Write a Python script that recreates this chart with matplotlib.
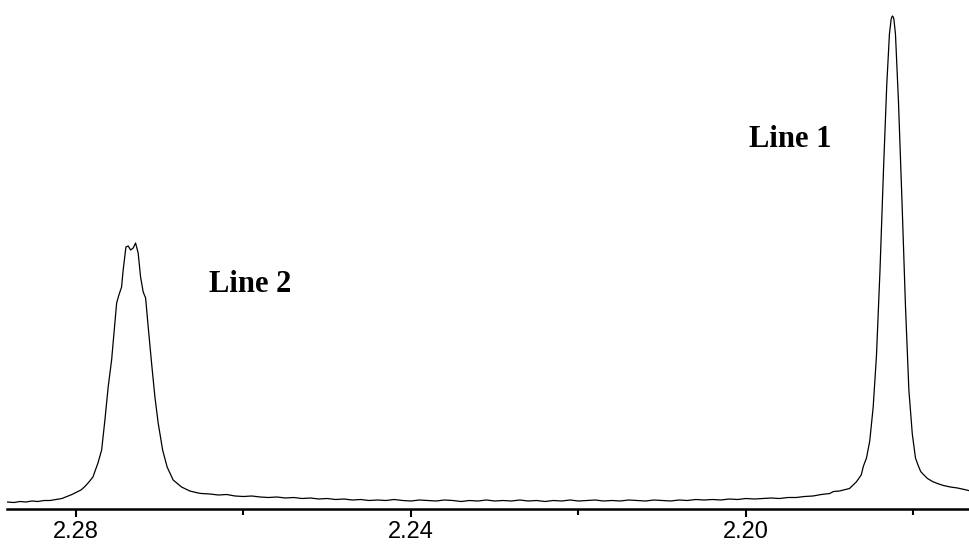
import matplotlib
matplotlib.use("Agg")
import matplotlib.pyplot as plt
from matplotlib.ticker import FixedLocator

# chemical shift (ppm) and intensity
shift_left = [2.28823, 2.2874, 2.28668, 2.28597, 2.28525, 2.28453, 2.28382, 2.2831,
              2.28239, 2.28167, 2.28107, 2.28048, 2.27988, 2.2794, 2.27893, 2.27845,
              2.27797, 2.27737, 2.27693, 2.27654, 2.27615, 2.27574, 2.27535, 2.27514,
              2.27487, 2.27455, 2.27436, 2.27403, 2.27376, 2.27347, 2.27316, 2.27288,
              2.27257, 2.27228, 2.27197, 2.27168, 2.27137, 2.27097, 2.27057, 2.27018,
              2.26965, 2.26911, 2.26839, 2.26739, 2.2664, 2.26541]
int_left = [7, 6.5, 7.5, 7, 8, 7.5, 8.5, 8.5,
            9.5, 10.5, 12.5, 14.5, 17, 19, 22.5, 27,
            32, 46, 59, 89, 122, 149, 186, 206,
            214, 222, 239, 262, 263, 259, 261, 266,
            256, 232, 217, 211, 182, 146, 112, 86,
            59, 42, 29, 22, 18, 16]

shift_base = [2.265, 2.264, 2.263, 2.262, 2.261, 2.260, 2.259, 2.258, 2.257, 2.256,
              2.255, 2.254, 2.253, 2.252, 2.251, 2.250, 2.249, 2.248, 2.247, 2.246,
              2.245, 2.244, 2.243, 2.242, 2.241, 2.240, 2.239, 2.238, 2.237, 2.236,
              2.235, 2.234, 2.233, 2.232, 2.231, 2.230, 2.229, 2.228, 2.227, 2.226,
              2.225, 2.224, 2.223, 2.222, 2.221, 2.220, 2.219, 2.218, 2.217, 2.216,
              2.215, 2.214, 2.213, 2.212, 2.211, 2.210, 2.209, 2.208, 2.207, 2.206,
              2.205, 2.204, 2.203, 2.202, 2.201, 2.200, 2.199, 2.198, 2.197, 2.196,
              2.195, 2.194, 2.193, 2.192, 2.191, 2.190]
int_base = [15.5, 15, 14, 14.5, 13, 12.5, 13, 12, 11.5, 12,
            11, 11.5, 10.5, 11, 10, 10.5, 9.5, 10, 9, 9.5,
            8.5, 9, 8.5, 9.5, 8.5, 8, 9, 8.5, 8, 9,
            8.5, 7.5, 8.5, 8, 9, 8, 8.5, 8, 9, 8,
            8.5, 7.5, 8.5, 8, 9, 8, 8.5, 9, 8, 8.5,
            8, 9, 8.5, 8, 9, 8.5, 8, 9, 8.5, 9.5,
            9, 9.5, 9, 10, 9.5, 10.5, 10, 10.5, 11, 10.5,
            11.5, 11.5, 12.5, 13, 14.5, 15.5]

shift_right = [2.18955, 2.18883, 2.18812, 2.18764, 2.18683, 2.18624, 2.18597, 2.18561,
               2.18522, 2.18481, 2.18442, 2.18400, 2.18358, 2.18319, 2.18287, 2.18266,
               2.18258, 2.18251, 2.18242, 2.18234, 2.18215, 2.18179, 2.18136, 2.18096,
               2.18055, 2.18014, 2.17976, 2.17946, 2.17914, 2.17881, 2.17833, 2.17773,
               2.17714, 2.17642, 2.17559, 2.17475, 2.17392, 2.17344]
int_right = [17.5, 18, 19.5, 20.5, 27, 34, 43, 51,
             68, 102, 153, 238, 339, 424, 475, 490,
             492, 493, 492, 490, 475, 407, 305, 204,
             119, 75, 51, 44, 37.5, 34.5, 30.5, 27.5,
             25.5, 23.5, 22, 21, 19.5, 18.5]

major_ticks = [2.28, 2.24, 2.20]
major_labels = ["2.28", "2.24", "2.20"]
minor_ticks = [2.26, 2.22, 2.18]

shift = shift_left + shift_base + shift_right
intensity = int_left + int_base + int_right

fig = plt.figure(figsize=(9.7, 5.51), dpi=100)
ax = fig.add_axes([7 / 970, 42 / 551, 962 / 970, 509 / 551])

ax.plot(shift, intensity, color="black", lw=0.9)

ax.set_xlim(2.28823, 2.17337)
ax.set_ylim(0, 509)

for side in ["top", "left", "right"]:
    ax.spines[side].set_visible(False)
ax.spines["bottom"].set_linewidth(1.8)
ax.set_yticks([])

ax.xaxis.set_major_locator(FixedLocator(major_ticks))
ax.xaxis.set_minor_locator(FixedLocator(minor_ticks))
ax.set_xticklabels(major_labels, fontfamily="Liberation Sans", fontsize=17)
ax.tick_params(axis="x", which="major", direction="out", length=5.8, width=1.5, pad=3)
ax.tick_params(axis="x", which="minor", direction="out", length=4.3, width=1.5)

ax.text(2.1947, 362, "Line 1", fontfamily="Liberation Serif", fontweight="bold",
        fontsize=22, ha="center", va="baseline")
ax.text(2.2592, 217, "Line 2", fontfamily="Liberation Serif", fontweight="bold",
        fontsize=22, ha="center", va="baseline")

plt.savefig("out.png", dpi=100)
plt.close()
